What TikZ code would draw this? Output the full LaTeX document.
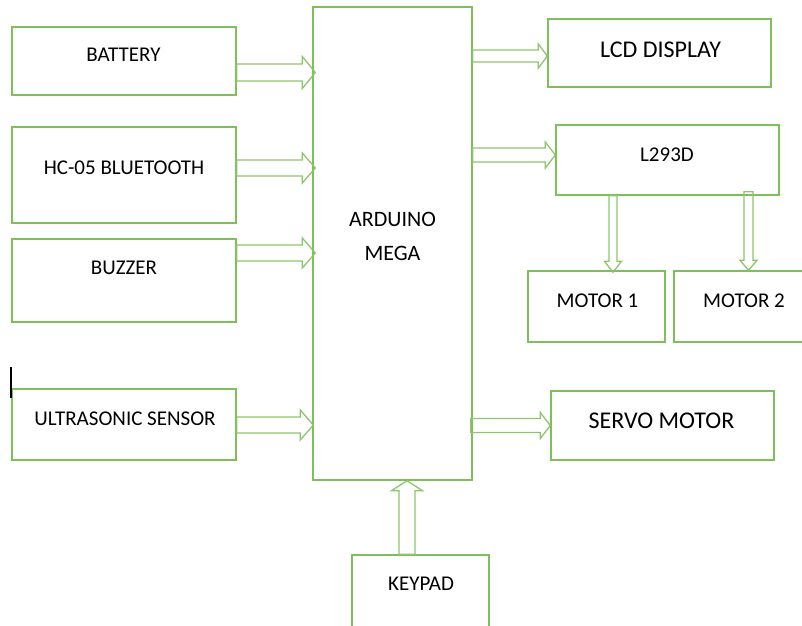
\documentclass[tikz,border=0pt]{standalone}
\usepackage{fontspec}
\setmainfont{Carlito}
\usetikzlibrary{calc}
\definecolor{gbox}{HTML}{7EBF5A}
\definecolor{garr}{HTML}{8CC66C}
\tikzset{
  blk/.style={draw=gbox, line width=1.4pt, minimum width=#1, inner sep=0pt},
  lab/.style={font=\fontsize{21}{24}\selectfont, inner sep=0pt, anchor=base},
  labr/.style={font=\fontsize{24}{26}\selectfont, inner sep=0pt, anchor=base},
  harr/.style n args={3}{draw=garr, line width=1.3pt, line join=miter,
    to path={let \p1=($(\tikztotarget)!#3!(\tikztostart)$) in
      ($(\tikztostart)!#1!90:(\tikztotarget)$) -- ($(\p1)!#1!90:(\tikztotarget)$)
      -- ($(\p1)!#2!90:(\tikztotarget)$) -- (\tikztotarget)
      -- ($(\p1)!#2!-90:(\tikztotarget)$) -- ($(\p1)!#1!-90:(\tikztotarget)$)
      -- ($(\tikztostart)!#1!-90:(\tikztotarget)$) -- cycle}},
}
\begin{document}
\begin{tikzpicture}[x=1pt,y=-1pt]
\useasboundingbox (0,0) rectangle (802,625);
\clip (0,0) rectangle (802,625);
% boxes
\node[blk=224pt, minimum height=68pt] (bat) at (124,61) {};
\node[blk=224pt, minimum height=96pt] (bt) at (124,175) {};
\node[blk=224pt, minimum height=83pt] (buz) at (124,280.5) {};
\node[blk=224pt, minimum height=71pt] (us) at (124,424.5) {};
\node[blk=159pt, minimum height=473pt] (ard) at (392.5,243.5) {};
\node[blk=223pt, minimum height=68pt] (lcd) at (659.5,53) {};
\node[blk=223pt, minimum height=70pt] (drv) at (667.5,160) {};
\node[blk=137pt, minimum height=71pt] (m1) at (596.5,306.5) {};
\node[blk=140pt, minimum height=71pt] (m2) at (744,306.5) {};
\node[blk=223pt, minimum height=69pt] (servo) at (662.5,425.5) {};
\node[blk=137pt, minimum height=90pt] (key) at (420.5,600) {};
% labels
\node[lab] (tbat) at (123.5,61) {BATTERY};
\node[lab] (tbt) at (124,174) {HC-05 BLUETOOTH};
\node[lab] (tbuz) at (124,274) {BUZZER};
\node[lab] (tus) at (125,425) {ULTRASONIC SENSOR};
\node[lab, font=\fontsize{22}{24}\selectfont] (tard1) at (392.5,226) {ARDUINO};
\node[lab, font=\fontsize{22}{24}\selectfont] (tard2) at (392.5,260) {MEGA};
\node[labr] (tlcd) at (660.5,57) {LCD DISPLAY};
\node[lab] (tdrv) at (667,161) {L293D};
\node[lab] (tm1) at (597.5,307) {MOTOR 1};
\node[lab] (tm2) at (744,307) {MOTOR 2};
\node[labr] (tservo) at (661.5,428) {SERVO MOTOR};
\node[lab] (tkey) at (421,590) {KEYPAD};
% black tick
\draw[line width=1.3pt] (11,367) -- (11,398);
% arrows into the Arduino
\coordinate (a1) at ([yshift=-11.5pt]bat.east);
\coordinate (a2) at ([yshift=7pt]bt.east);
\coordinate (a3) at ([yshift=27.5pt]buz.east);
\coordinate (a4) at ([yshift=-0.5pt]us.east);
\draw[harr={8.5pt}{16pt}{13pt}] (a1) to ([xshift=3pt]a1 -| ard.west);
\draw[harr={8pt}{15pt}{13pt}] (a2) to ([xshift=3pt]a2 -| ard.west);
\draw[harr={8pt}{15pt}{13pt}] (a3) to ([xshift=3pt]a3 -| ard.west);
\draw[harr={8pt}{15pt}{13pt}] (a4) to ([xshift=1pt]a4 -| ard.west);
% arrows out of the Arduino
\coordinate (b1) at ([yshift=-3pt]lcd.west);
\coordinate (b2) at ([yshift=5pt]drv.west);
\coordinate (b3) at (servo.west);
\draw[harr={6pt}{12pt}{9pt}] (b1 -| ard.east) to (b1);
\draw[harr={7pt}{13pt}{10pt}] (b2 -| ard.east) to (b2);
\draw[harr={7pt}{13pt}{10pt}] ([xshift=-2pt]b3 -| ard.east) to (b3);
% driver to motors
\coordinate (c1) at ([xshift=-54.5pt]drv.south);
\coordinate (c2) at ([xshift=81pt]drv.south);
\draw[harr={4pt}{8.5pt}{11pt}] (c1) to ([yshift=-2pt]c1 |- m1.north);
\draw[harr={4.5pt}{8.5pt}{10pt}] ([yshift=4pt]c2) to (c2 |- m2.north);
% keypad to Arduino
\coordinate (d1) at ([xshift=-13.5pt]key.north);
\draw[harr={8pt}{15.5pt}{10pt}] (d1) to (d1 |- ard.south);
\end{tikzpicture}
\end{document}
